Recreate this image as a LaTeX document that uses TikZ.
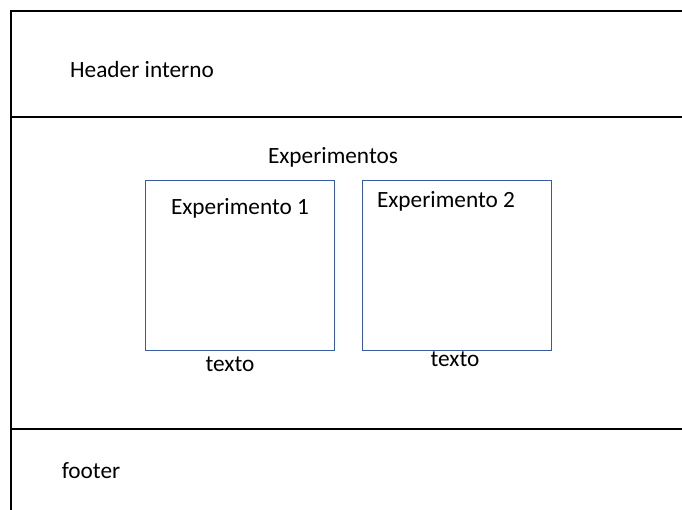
\documentclass[tikz,border=0pt]{standalone}
\usepackage{fontspec}
\setmainfont{Carlito}
\usetikzlibrary{positioning}
\definecolor{Bx}{RGB}{55, 90, 160}

\tikzset{
   frame/.style={black, line width=2.4pt},
   expbox/.style={draw=Bx, line width=0.8pt, minimum width=189pt, minimum height=170pt, inner sep=0pt},
   txt/.style={inner sep=0pt, font=\fontsize{23.3}{26}\selectfont}
}

\begin{document}
\begin{tikzpicture}[x=1pt, y=-1pt]
   \useasboundingbox (0,0) rectangle (682,510);
   \draw[frame] (682,11) -- (11,11) -- (11,510);
   \draw[frame] (11,117) -- (682,117);
   \draw[frame] (11,429) -- (682,429);
   \node[txt] (header) at (142,70) {Header interno};
   \node[txt] (titulo) at (333,157) {Experimentos};
   \node[expbox] (exp1) at (239.5,265) {};
   \node[expbox] (exp2) at (456.5,265) {};
   \node[txt] (nome1) at (240,208) {Experimento 1};
   \node[txt] (nome2) at (446,201) {Experimento 2};
   \node[txt] (texto1) at (230,364) {texto};
   \node[txt] (texto2) at (455,359) {texto};
   \node[txt] (footer) at (91,471) {footer};
\end{tikzpicture}
\end{document}
